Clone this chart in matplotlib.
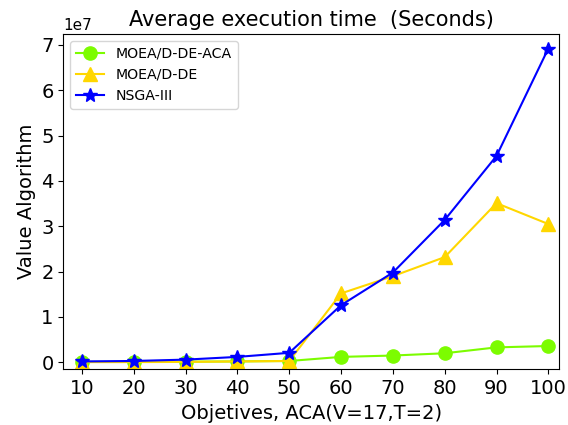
import matplotlib
matplotlib.use("Agg")
import matplotlib.pyplot as plt

objectives = [10, 20, 30, 40, 50, 60, 70, 80, 90, 100]
moead_de_aca = [0.1e6, 0.1e6, 0.15e6, 0.2e6, 0.3e6, 1.2e6, 1.5e6, 2.0e6, 3.3e6, 3.6e6]
moead_de = [0.05e6, 0.05e6, 0.1e6, 0.2e6, 0.3e6, 1.52e7, 1.9e7, 2.32e7, 3.51e7, 3.05e7]
nsga3 = [0.2e6, 0.3e6, 0.6e6, 1.2e6, 2.1e6, 1.26e7, 1.98e7, 3.14e7, 4.55e7, 6.92e7]

fig = plt.figure(figsize=(5.68, 4.25), dpi=100)
ax = fig.add_axes([0.1115, 0.131, 0.873, 0.789])

ax.plot(objectives, moead_de_aca, color="#7CFC00", marker="o", markersize=9.5,
        linewidth=1.5, label="MOEA/D-DE-ACA")
ax.plot(objectives, moead_de, color="#FFD700", marker="^", markersize=9.5,
        linewidth=1.5, label="MOEA/D-DE")
ax.plot(objectives, nsga3, color="#0000FF", marker="*", markersize=10,
        linewidth=1.5, label="NSGA-III")

ax.set_xlim(6.4, 102.1)
ax.set_ylim(-0.154e7, 7.24e7)
ax.set_xticks(objectives)
ax.tick_params(labelsize=14)
ax.yaxis.get_offset_text().set_fontsize(11)

ax.set_title("Average execution time  (Seconds)", fontsize=15)
ax.set_xlabel("Objetives, ACA(V=17,T=2)", fontsize=14)
ax.set_ylabel("Value Algorithm", fontsize=14)
ax.legend(loc="upper left", fontsize=10.2, numpoints=1)

fig.savefig("out.png", dpi=100)
